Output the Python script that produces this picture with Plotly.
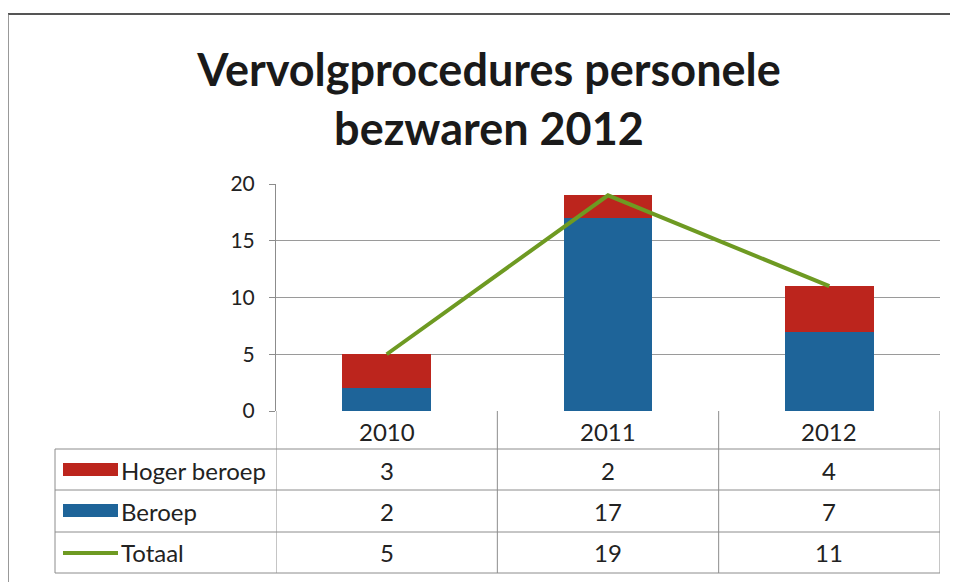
import plotly.graph_objects as go

years = ["2010", "2011", "2012"]
hoger_beroep = [3, 2, 4]
beroep = [2, 17, 7]
totaal = [5, 19, 11]
series_names = ["Hoger beroep", "Beroep", "Totaal"]
y_ticks = [0, 5, 10, 15, 20]

W, H = 958, 582
OFF = 8  # page body margin compensation
def px(x): return (x - OFF) / W
def py(y): return 1 - (y - OFF) / H

RED = "#BC251D"
BLUE = "#1E6499"
GREEN = "#6E9A22"
FONT = "Lato"

fig = go.Figure()
xs = list(range(len(years)))
fig.add_trace(go.Bar(x=xs, y=beroep, name="Beroep", marker=dict(color=BLUE, line=dict(width=0))))
fig.add_trace(go.Bar(x=xs, y=hoger_beroep, name="Hoger beroep", marker=dict(color=RED, line=dict(width=0))))
fig.add_trace(go.Scatter(x=xs, y=totaal, name="Totaal", mode="lines", line=dict(color=GREEN, width=4)))

x0, x1 = 276, 940
y_top, y_bot = 184, 411
row_lines = [449, 490, 532, 573]

shapes = []
line_col = "#8C8C8C"
# frame
shapes.append(dict(type="line", xref="paper", yref="paper", x0=px(8), x1=px(966), y0=py(14), y1=py(14), line=dict(color="#555", width=2)))
shapes.append(dict(type="line", xref="paper", yref="paper", x0=px(8), x1=px(8), y0=py(14), y1=py(590), line=dict(color="#777", width=1.5)))
# table horizontal lines
for ry in row_lines:
    shapes.append(dict(type="line", xref="paper", yref="paper", x0=px(55), x1=px(x1), y0=py(ry), y1=py(ry), line=dict(color=line_col, width=1)))
# table vertical lines (category boundaries)
for b in [-0.5, 0.5, 1.5, 2.5]:
    shapes.append(dict(type="line", xref="x", yref="paper", x0=b, x1=b, y0=py(y_bot), y1=py(573), line=dict(color=line_col, width=1)))
shapes.append(dict(type="line", xref="paper", yref="paper", x0=px(55), x1=px(55), y0=py(449), y1=py(573), line=dict(color=line_col, width=1)))
# legend keys
shapes.append(dict(type="rect", xref="paper", yref="paper", x0=px(63), x1=px(118), y0=py(476), y1=py(463), fillcolor=RED, line=dict(width=0)))
shapes.append(dict(type="rect", xref="paper", yref="paper", x0=px(63), x1=px(118), y0=py(517), y1=py(504), fillcolor=BLUE, line=dict(width=0)))
shapes.append(dict(type="line", xref="paper", yref="paper", x0=px(63), x1=px(118), y0=py(553), y1=py(553), line=dict(color=GREEN, width=4)))

annotations = []
txt_font = dict(family=FONT, size=24, color="#222")
for i, yr in enumerate(years):
    annotations.append(dict(x=i, y=py(431), xref="x", yref="paper", yanchor="middle", xanchor="center",
                            text=yr, showarrow=False, font=txt_font))
rows_vals = [hoger_beroep, beroep, totaal]
row_centers = [470, 511, 552]
for r, vals in enumerate(rows_vals):
    for i, v in enumerate(vals):
        annotations.append(dict(x=i, y=py(row_centers[r]), xref="x", yref="paper", yanchor="middle", xanchor="center",
                                text=str(v), showarrow=False, font=txt_font))
    annotations.append(dict(x=px(119), y=py(row_centers[r]), xref="paper", yref="paper", xanchor="left", yanchor="middle",
                            text=series_names[r], showarrow=False, font=txt_font))

fig.update_layout(
    width=W, height=H,
    margin=dict(l=0, r=0, t=0, b=0, autoexpand=False),
    paper_bgcolor="white", plot_bgcolor="white",
    barmode="stack", bargap=0.6,
    showlegend=False,
    title=dict(text="<b>Vervolgprocedures personele<br>bezwaren 2012</b>", x=px(489), xanchor="center", y=py(86), yanchor="middle",
               font=dict(family=FONT, size=45, color="#1a1a1a")),
    xaxis=dict(domain=[px(x0), px(x1)], range=[-0.5, 2.5], showticklabels=False, showgrid=False, zeroline=False, showline=False,
               ticks="", automargin=False, fixedrange=True),
    yaxis=dict(domain=[py(y_bot), py(y_top)], range=[0, 20], tickvals=y_ticks, showgrid=True, gridcolor="#9A9A9A", gridwidth=1,
               zeroline=False, showline=True, linecolor="#8C8C8C", ticks="outside", ticklen=6, tickcolor="#8C8C8C",
               tickfont=dict(family=FONT, size=21, color="#222"), ticklabelstandoff=10, automargin=False, fixedrange=True),
    shapes=shapes, annotations=annotations,
)
fig.write_html("out.html")
